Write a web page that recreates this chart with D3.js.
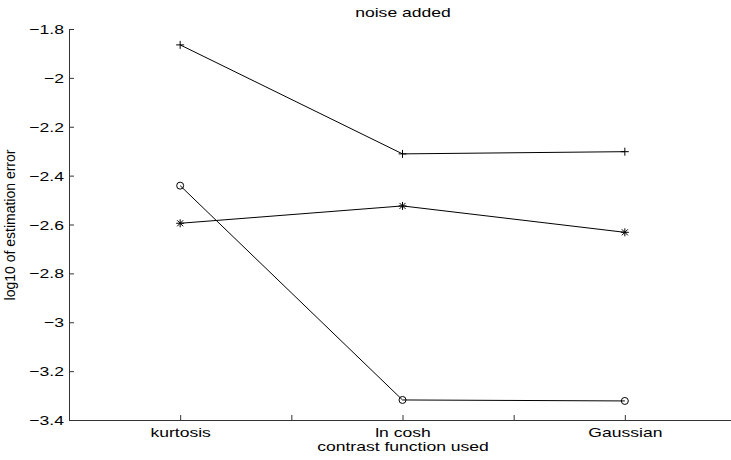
<!DOCTYPE html>
<html>
<head>
<meta charset="utf-8">
<script src="https://cdn.jsdelivr.net/npm/d3@7"></script>
<style>
  body { margin: 0; background: #fff; }
  text { font-family: "Liberation Sans", Arial, sans-serif; fill: #000; }
</style>
</head>
<body>
<script>
// categories on the x axis (positions 1, 2, 3)
var categories = ["kurtosis", "ln cosh", "Gaussian"];

// log10 estimation error per contrast function
var plusSeries   = [-1.865, -2.311, -2.302];
var starSeries   = [-2.595, -2.524, -2.632];
var circleSeries = [-2.441, -3.318, -3.322];

var yTicks = [-3.4, -3.2, -3, -2.8, -2.6, -2.4, -2.2, -2, -1.8];
var xTicks = [1, 1.5, 2, 2.5, 3];

var W = 731, H = 460;
var sx = 1.35; // the original figure is stretched sideways

var x = d3.scaleLinear().domain([0.5, 3.5]).range([69, 736]);
var y = d3.scaleLinear().domain([-3.4, -1.8]).range([420, 29]);

var svg = d3.select("body").append("svg")
    .attr("width", W)
    .attr("height", H);

// x axis
var xAxis = svg.append("g")
    .attr("transform", "translate(0,420)")
    .call(d3.axisBottom(x)
        .tickValues(xTicks)
        .tickSizeInner(-5)
        .tickSizeOuter(0)
        .tickPadding(0)
        .tickFormat(function(d) { return d % 1 === 0 ? categories[d - 1] : ""; }));

// y axis
var yAxis = svg.append("g")
    .attr("transform", "translate(69,0)")
    .call(d3.axisLeft(y)
        .tickValues(yTicks)
        .tickSizeInner(-5)
        .tickSizeOuter(0)
        .tickPadding(5)
        .tickFormat(function(d) { return String(+d.toFixed(1)).replace("-", "\u2212"); }));

[xAxis, yAxis].forEach(function(a) {
  a.select(".domain").attr("stroke", "#333").attr("stroke-width", 1);
  a.selectAll(".tick line").attr("stroke", "#333");
  a.selectAll("text")
      .attr("font-family", "Liberation Sans, Arial, sans-serif")
      .attr("font-size", 13)
      .attr("fill", "#000");
});

xAxis.selectAll("text")
    .attr("y", 0)
    .attr("dy", 0)
    .attr("transform", "translate(0,17) scale(" + sx + ",1)");

yAxis.selectAll("text")
    .attr("x", 0)
    .attr("dy", "0.35em")
    .attr("transform", "translate(-5,0) scale(" + sx + ",1)");

// data lines
var line = d3.line()
    .x(function(d, i) { return x(i + 1); })
    .y(function(d) { return y(d); });

var series = [
  {values: plusSeries, marker: "plus"},
  {values: starSeries, marker: "star"},
  {values: circleSeries, marker: "circle"}
];

var markerPath = {
  plus: "M-4,0H4M0,-4V4",
  star: "M-4,0H4M0,-4V4M-3,-3L3,3M-3,3L3,-3",
  circle: "M3.5,0A3.5,3.5 0 1,1 -3.5,0A3.5,3.5 0 1,1 3.5,0Z"
};

series.forEach(function(s) {
  svg.append("path")
      .datum(s.values)
      .attr("fill", "none")
      .attr("stroke", "#000")
      .attr("stroke-width", 1)
      .attr("d", line);

  svg.selectAll(null)
      .data(s.values)
      .enter().append("path")
      .attr("transform", function(d, i) { return "translate(" + x(i + 1) + "," + y(d) + ")"; })
      .attr("fill", "none")
      .attr("stroke", "#000")
      .attr("stroke-width", 1)
      .attr("d", markerPath[s.marker]);
});

// title
svg.append("text")
    .attr("text-anchor", "middle")
    .attr("font-size", 13)
    .attr("transform", "translate(403,17) scale(" + sx + ",1)")
    .text("noise added");

// x axis label
svg.append("text")
    .attr("text-anchor", "middle")
    .attr("font-size", 13)
    .attr("transform", "translate(403,451) scale(" + sx + ",1)")
    .text("contrast function used");

// y axis label
svg.append("text")
    .attr("text-anchor", "middle")
    .attr("font-size", 14)
    .attr("transform", "translate(15,225) rotate(-90)")
    .text("log10 of estimation error");
</script>
</body>
</html>
